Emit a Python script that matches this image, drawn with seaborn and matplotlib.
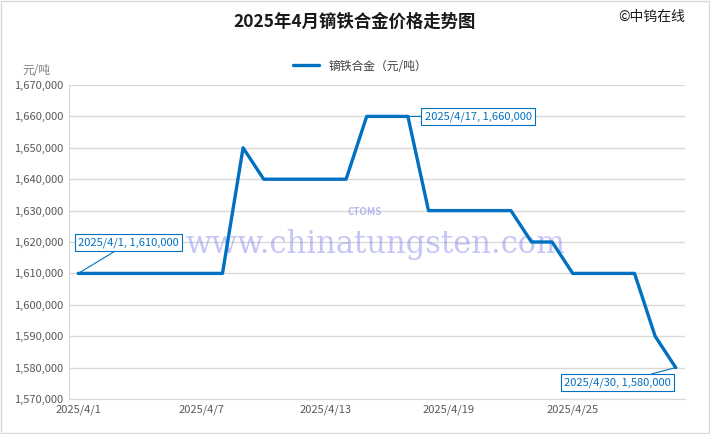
import pandas as pd
import matplotlib.pyplot as plt
import seaborn as sns
from matplotlib.patches import Rectangle

# data
dates = [f"2025/4/{d}" for d in range(1, 31)]
prices = [1610000, 1610000, 1610000, 1610000, 1610000, 1610000, 1610000, 1610000,
          1650000, 1640000, 1640000, 1640000, 1640000, 1640000, 1660000, 1660000,
          1660000, 1630000, 1630000, 1630000, 1630000, 1630000, 1620000, 1620000,
          1610000, 1610000, 1610000, 1610000, 1590000, 1580000]
tick_days = ["2025/4/1", "2025/4/7", "2025/4/13", "2025/4/19", "2025/4/25"]
callouts = ["2025/4/1", "2025/4/17", "2025/4/30"]

df = pd.DataFrame({"day": range(len(dates)), "date": dates, "price": prices})

sns.set_style("white")
plt.rcParams['font.family'] = ['Noto Sans CJK SC', 'DejaVu Sans']

fig = plt.figure(figsize=(7.1, 4.34), dpi=100)
ax = fig.add_axes([69 / 710, 1 - 399 / 434, (685 - 69) / 710, (399 - 85) / 434])

blue = "#0070C0"
sns.lineplot(data=df, x="day", y="price", ax=ax, color=blue, linewidth=2.4,
             label="镝铁合金（元/吨）", zorder=3)

ax.set_ylim(1570000, 1670000)
ax.set_yticks(range(1570000, 1670001, 10000))
ax.set_yticklabels([f"{v:,}" for v in range(1570000, 1670001, 10000)])
ax.set_xlim(-0.45, len(dates) - 0.55)
ax.set_xticks([dates.index(d) for d in tick_days])
ax.set_xticklabels(tick_days)
ax.tick_params(axis="both", labelsize=8, colors="#595959", length=0, pad=4)
ax.grid(axis="y", color="#D9D9D9", linewidth=1)
ax.set_xlabel("")
ax.set_ylabel("")
for side in ["top", "right"]:
    ax.spines[side].set_visible(False)
ax.spines["left"].set_color("#D9D9D9")
ax.spines["bottom"].set_color("#D9D9D9")

# legend at top
leg = ax.legend(loc="center", frameon=False, fontsize=8.5, handlelength=2.2)
leg.set_bbox_to_anchor((360 / 710, 1 - 66 / 434), transform=fig.transFigure)
for t in leg.get_texts():
    t.set_color("#404040")

# watermark (under the line)
ax.text(376 / 710, 1 - 245 / 434, "www.chinatungsten.com", ha="center", va="center",
        fontsize=22, family="DejaVu Serif", color="#8C8CF0", alpha=0.5,
        transform=fig.transFigure, zorder=1)
ax.text(365 / 710, 1 - 212 / 434, "CTOMS", ha="center", va="center", fontsize=7,
        fontweight="bold", style="italic", color="#9999EE", alpha=0.7,
        transform=fig.transFigure, zorder=1)

# data callouts
offsets = {"2025/4/1": (0, 22), "2025/4/17": (12, 0), "2025/4/30": (-42, -11)}
for d in callouts:
    i = dates.index(d)
    v = prices[i]
    dx, dy = offsets[d]
    ax.annotate(f"{d}, {v:,}", xy=(i, v), xytext=(dx, dy), textcoords="offset points",
                ha="center" if d == "2025/4/30" else "left", va="center",
                fontsize=8, color=blue, zorder=5,
                bbox=dict(boxstyle="square,pad=0.3", fc="white", ec=blue, lw=0.8),
                arrowprops=dict(arrowstyle="-", color=blue, lw=0.8,
                                shrinkA=0, shrinkB=0))

# titles
fig.text(355 / 710, 1 - 22 / 434, "2025年4月镝铁合金价格走势图", ha="center",
         va="center", fontsize=12.5, fontweight="bold", color="#1a1a1a")
fig.text(652 / 710, 1 - 17 / 434, "©中钨在线", ha="center", va="center",
         fontsize=10, color="#1a1a1a")
fig.text(36 / 710, 1 - 70 / 434, "元/吨", ha="center", va="center",
         fontsize=8.5, color="#7f7f7f")

fig.patches.append(Rectangle((0.002, 0.003), 0.996, 0.994, transform=fig.transFigure,
                             fill=False, ec="#D9D9D9", lw=1))

plt.savefig("out.png", dpi=100)
